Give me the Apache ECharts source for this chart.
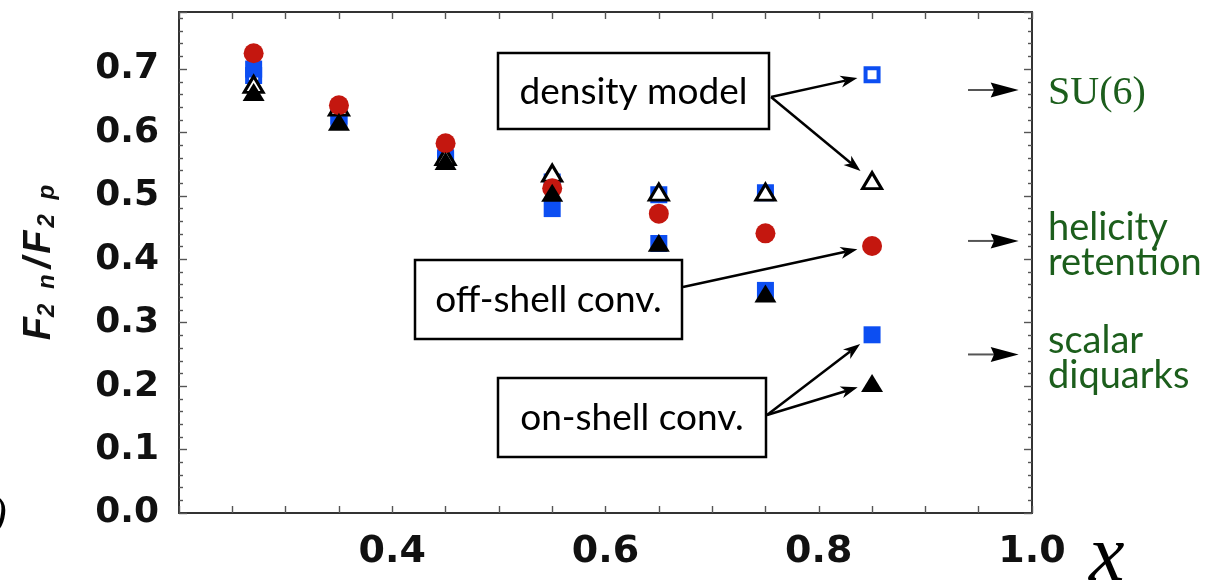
<!DOCTYPE html>
<html>
<head>
<meta charset="utf-8">
<script src="https://cdn.jsdelivr.net/npm/echarts@6/dist/echarts.min.js"></script>
<style>
html,body{margin:0;padding:0;background:#fff;}
#chart{width:1213px;height:585px;}
</style>
</head>
<body>
<div id="chart"></div>
<script>
// ---- data ----
const xValues          = [0.27, 0.35, 0.45, 0.55, 0.65, 0.75, 0.85];
const offShellCircles  = [0.725, 0.643, 0.583, 0.512, 0.472, 0.441, 0.421];
const onShellSquares   = [0.700, 0.620, 0.557, 0.480, 0.425, 0.351, 0.281];
const onShellTriangles = [0.664, 0.617, 0.555, 0.505, 0.426, 0.346, 0.205];
const densitySquares   = [0.690, 0.626, 0.560, 0.522, 0.502, 0.505, 0.691];
const densityTriangles = [0.676, 0.640, 0.562, 0.536, 0.506, 0.506, 0.524];
const limitLevels      = [0.667, 0.429, 0.250];
const limitLabels      = ['SU(6)', 'helicity\nretention', 'scalar\ndiquarks'];
const xTickValues      = [0.4, 0.6, 0.8, 1.0];
const boxLabels        = ['density model', 'off-shell conv.', 'on-shell conv.'];

const RED = '#c4170f', BLUE = '#0c4ef2', GREEN = '#1c5e1c';
const pairs = arr => arr.map((v, i) => [xValues[i], v]);

const chart = echarts.init(document.getElementById('chart'), null, {renderer: 'canvas'});

const frameLine = {show: true, onZero: false, lineStyle: {color: '#333', width: 2}};
const tickStyle = {color: '#555', width: 1.4};

const option = {
  animation: false,
  backgroundColor: '#fff',
  grid: {left: 179, right: 181, top: 12, bottom: 72, outerBoundsMode: 'none'},
  xAxis: [
    {
      type: 'value', min: 0.2, max: 1.0, interval: 0.2, position: 'bottom',
      axisLine: frameLine,
      axisTick: {show: true, inside: true, length: 7, lineStyle: tickStyle},
      minorTick: {show: true, splitNumber: 4, length: 7, lineStyle: tickStyle},
      splitLine: {show: false},
      axisLabel: {
        showMinLabel: false, margin: 20, color: '#111',
        fontFamily: 'DejaVu Sans', fontWeight: 'bold', fontSize: 38,
        formatter: v => xTickValues.some(t => Math.abs(t - v) < 1e-6) ? v.toFixed(1) : ''
      },
      name: 'x', nameLocation: 'end', nameGap: 57,
      nameTextStyle: {fontFamily: 'Liberation Serif', fontStyle: 'italic', fontSize: 80, color: '#000',
        verticalAlign: 'top', lineHeight: 92}
    },
    {
      type: 'value', min: 0.2, max: 1.0, interval: 0.2, position: 'top',
      axisLine: frameLine,
      axisTick: {show: true, inside: true, length: 7, lineStyle: tickStyle},
      minorTick: {show: true, splitNumber: 4, length: 7, lineStyle: tickStyle},
      splitLine: {show: false}, axisLabel: {show: false}
    }
  ],
  yAxis: [
    {
      type: 'value', min: 0, max: 0.79, interval: 0.1, position: 'left',
      axisLine: frameLine,
      axisTick: {show: true, inside: true, length: 8, lineStyle: tickStyle},
      minorTick: {show: true, splitNumber: 5, length: 4, lineStyle: tickStyle},
      splitLine: {show: false},
      axisLabel: {
        showMaxLabel: false, margin: 20, color: '#111',
        fontFamily: 'DejaVu Sans', fontWeight: 'bold', fontSize: 36,
        formatter: v => v.toFixed(1)
      },
      name: '{f|F}{s|2}{sn| n}{sl|/}{f2|F}{s|2}{sn| p}',
      nameLocation: 'middle', nameRotate: 90, nameGap: 120,
      nameTextStyle: {
        rich: {
          f:  {fontFamily: 'Liberation Sans', fontWeight: 'bold', fontStyle: 'italic', fontSize: 38, lineHeight: 38, color: '#111', padding: [0, 0, 5, 0], verticalAlign: 'top'},
          f2: {fontFamily: 'Liberation Sans', fontWeight: 'bold', fontStyle: 'italic', fontSize: 38, lineHeight: 38, color: '#111', padding: [0, 3, 5, 0], verticalAlign: 'top'},
          sl: {fontFamily: 'Liberation Sans', fontWeight: 'bold', fontStyle: 'italic', fontSize: 38, lineHeight: 38, color: '#111', padding: [0, 4, 5, 6], verticalAlign: 'top'},
          s:  {fontFamily: 'Liberation Sans', fontWeight: 'bold', fontStyle: 'italic', fontSize: 24, lineHeight: 24, color: '#111', verticalAlign: 'bottom'},
          sn: {fontFamily: 'Liberation Sans', fontWeight: 'bold', fontStyle: 'italic', fontSize: 24, lineHeight: 24, color: '#111', verticalAlign: 'bottom', padding: [0, 0, 0, 8]}
        }
      }
    },
    {
      type: 'value', min: 0, max: 0.79, interval: 0.1, position: 'right',
      axisLine: frameLine,
      axisTick: {show: true, inside: true, length: 8, lineStyle: tickStyle},
      minorTick: {show: true, splitNumber: 5, length: 4, lineStyle: tickStyle},
      splitLine: {show: false}, axisLabel: {show: false}
    }
  ],
  series: [
    {
      name: 'density model (squares)', type: 'scatter', data: pairs(densitySquares),
      symbol: 'rect', symbolSize: 13,
      itemStyle: {color: '#fff', borderColor: BLUE, borderWidth: 4, opacity: 1}
    },
    {
      name: 'on-shell conv. (squares)', type: 'scatter', data: pairs(onShellSquares),
      symbol: 'rect', symbolSize: 17, itemStyle: {color: BLUE, opacity: 1}
    },
    {
      name: 'density model (triangles)', type: 'scatter', data: pairs(densityTriangles),
      symbol: 'triangle', symbolSize: [19, 16],
      itemStyle: {color: '#fff', borderColor: '#000', borderWidth: 3, opacity: 1}
    },
    {
      name: 'off-shell conv.', type: 'scatter', data: pairs(offShellCircles),
      symbol: 'circle', symbolSize: 20, itemStyle: {color: RED, opacity: 1}
    },
    {
      name: 'on-shell conv. (triangles)', type: 'scatter', data: pairs(onShellTriangles),
      symbol: 'triangle', symbolSize: [22, 18], itemStyle: {color: '#000', opacity: 1}
    }
  ]
};
chart.setOption(option);

// ---- annotations (boxes + arrows), arrow targets taken from the data through the axes ----
function px(x, y) { return chart.convertToPixel({xAxisIndex: 0, yAxisIndex: 0}, [x, y]); }
function arrow(t, c, gap, L, W, notchK, tailColor, tailWidth) {
  const dx = c[0] - t[0], dy = c[1] - t[1];
  const len = Math.hypot(dx, dy), ux = dx / len, uy = dy / len, nx = -uy, ny = ux;
  const tip = [c[0] - ux * gap, c[1] - uy * gap];
  const base = [tip[0] - ux * L, tip[1] - uy * L];
  const notch = [tip[0] - ux * L * notchK, tip[1] - uy * L * notchK];
  return [
    {type: 'line', shape: {x1: t[0], y1: t[1], x2: notch[0], y2: notch[1]}, style: {stroke: tailColor || '#000', lineWidth: tailWidth || 2.5}, z: 100},
    {type: 'polygon', shape: {points: [tip, [base[0] + nx * W / 2, base[1] + ny * W / 2], notch, [base[0] - nx * W / 2, base[1] - ny * W / 2]]}, style: {fill: '#000'}, z: 100}
  ];
}
const last = xValues.length - 1;
const annos = [
  {label: boxLabels[0], box: [498, 53, 271, 76], tail: [771, 97],
   targets: [px(xValues[last], densitySquares[last]), px(xValues[last], densityTriangles[last])]},
  {label: boxLabels[1], box: [415, 260, 267, 79], tail: [683, 287],
   targets: [px(xValues[last], offShellCircles[last])]},
  {label: boxLabels[2], box: [498, 378, 268, 79], tail: [767, 415],
   targets: [px(xValues[last], onShellSquares[last]), px(xValues[last], onShellTriangles[last])]}
];
const graphics = [];
annos.forEach(a => {
  const [x, y, w, h] = a.box;
  graphics.push({type: 'rect', shape: {x, y, width: w, height: h}, style: {fill: '#fff', stroke: '#000', lineWidth: 2.5}, z: 100});
  graphics.push({type: 'text', x: x + w / 2, y: y + h / 2 + 1, z: 101,
    style: {text: a.label, fill: '#000', font: '37px Lato', textAlign: 'center', textVerticalAlign: 'middle'}});
  a.targets.forEach(t => arrow(a.tail, t, 15, 17, 12, 0.72).forEach(g => graphics.push(g)));
});
// limit arrows (at the theoretical x -> 1 values) and their labels
limitLevels.forEach((v, i) => {
  const tail = px(0.940, v), tip = px(0.9875, v);
  arrow(tail, tip, 0, 28, 15, 0.88, '#555', 2).forEach(g => graphics.push(g));
  const serif = i === 0;
  graphics.push({type: 'text', x: 1048, y: tip[1] + (serif ? 3 : 4), z: 101,
    style: {text: limitLabels[i], fill: GREEN,
      font: serif ? '40px "Liberation Serif"' : '38px Lato',
      lineHeight: 35, textAlign: 'left', textVerticalAlign: 'middle'}});
});
// clipped fragment at left edge
graphics.push({type: 'text', x: -8, y: 515, z: 101,
  style: {text: ')', fill: '#000', font: 'italic 44px "Liberation Serif"', textAlign: 'left', textVerticalAlign: 'middle'}});
chart.setOption({graphic: graphics});
</script>
</body>
</html>
